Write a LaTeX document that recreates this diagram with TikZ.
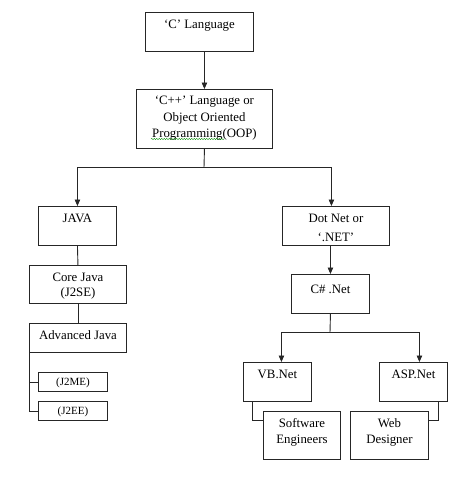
\documentclass[tikz,border=0pt]{standalone}
\usepackage{fontspec}
\setmainfont{Liberation Serif}
\usetikzlibrary{arrows.meta,decorations.pathmorphing}

\tikzset{
	box/.style={draw=black!85, line width=0.9pt, anchor=north west, inner sep=0pt, align=center, font=\fontsize{12.8}{16}\selectfont},
	small/.style={font=\fontsize{11}{13}\selectfont},
	flow/.style={draw=black!85, line width=0.9pt, -{Triangle[length=6.5pt,width=5.5pt]}},
	link/.style={draw=black!85, line width=0.9pt},
}

\begin{document}
\begin{tikzpicture}[x=1pt,y=1pt,yscale=-1,xscale=1]
				%set diagram left start at 0, and has height of 498
				\path (0,0) rectangle (474,498);

				%Shape: Rectangle [C language]
				\node [box, minimum width=108, text height=16.3, text depth=22.7] (clang) at (145,12) {‘C’ Language};
				%Shape: Rectangle [C++ / OOP]
				\node [box, minimum width=136, text height=48.3, text depth=10.7] (cpp) at (136,89) {‘C++’ Language or\\[0.5pt]Object Oriented\\[0.5pt]Programming(OOP)};
				%Shape: Rectangle [Java branch]
				\node [box, minimum width=78, text height=16.3, text depth=22.7] (java) at (38,206) {JAVA};
				\node [box, minimum width=97, text height=31.3, text depth=6.7] (core) at (29,265) {Core Java\\[-1pt](J2SE)};
				\node [box, minimum width=97, text height=16.3, text depth=12.7] (adv) at (29,323) {Advanced Java};
				\node [box, small, minimum width=69, text height=13.2, text depth=5.8] (jme) at (38,372) {(J2ME)};
				\node [box, small, minimum width=69, text height=13.4, text depth=5.6] (jee) at (38,401) {(J2EE)};
				%Shape: Rectangle [.NET branch]
				\node [box, minimum width=107, text height=34.8, text depth=4.2] (dotnet) at (282,206) {Dot Net or\\[2.5pt]‘.NET’};
				\node [box, minimum width=78, text height=19.3, text depth=19.7] (csharp) at (291,274) {C\# .Net};
				\node [box, minimum width=68, text height=15.6, text depth=23.4] (vbnet) at (243,362) {VB.Net};
				\node [box, minimum width=68, text height=15.6, text depth=23.4] (aspnet) at (379,362) {ASP.Net};
				\node [box, minimum width=77, text height=31.6, text depth=16.4] (softeng) at (263,411) {Software\\[-0.5pt]Engineers};
				\node [box, minimum width=78, text height=31.6, text depth=16.4] (webdes) at (350,411) {Web\\[-0.5pt]Designer};

				%Curve Lines [spell check mark]
				\draw [green!55!black, line width=0.4pt, decorate, decoration={snake, amplitude=0.6pt, segment length=2.5pt}] (151,139) -- (224,139);

				%Straight Lines [top]
				\coordinate (langsplit) at (204,167.5);
				\draw [flow] ([xshift=5pt]clang.south) -- (cpp.north);
				\draw [link] (cpp.south) -- (langsplit);
				\draw [flow] (langsplit) -| (java.north);
				\draw [flow] (langsplit) -| ([xshift=-4.5pt]dotnet.north);
				%Straight Lines [Java]
				\draw [link] (java.south) -- (core.north);
				\draw [link] (core.south) -- (adv.north);
				\draw [link] (adv.south west) |- (jme.west);
				\draw [link] (adv.south west) |- (jee.west);
				%Straight Lines [.NET]
				\coordinate (netsplit) at (330,332.5);
				\draw [flow] (csharp.north |- dotnet.south) -- (csharp.north);
				\draw [link] (csharp.south) -- (netsplit);
				\draw [flow] (netsplit) -| ([xshift=4pt]vbnet.north);
				\draw [flow] (netsplit) -| ([xshift=6pt]aspnet.north);
				\draw [link] ([xshift=9.5pt]vbnet.south west) |- ([yshift=9.5pt]softeng.north west);
				\draw [link] ([xshift=-9.5pt]aspnet.south east) |- ([yshift=9.5pt]webdes.north east);

\end{tikzpicture}
\end{document}
